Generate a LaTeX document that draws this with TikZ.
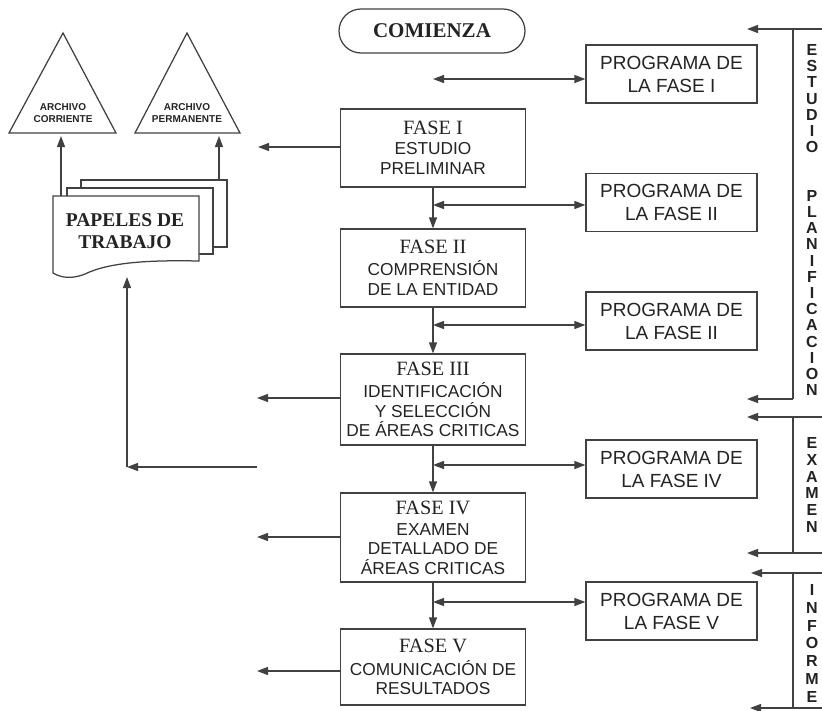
\documentclass[tikz,border=0pt]{standalone}
\usepackage{fontspec}
\setmainfont{Liberation Serif}
\setsansfont{Liberation Sans}
\usetikzlibrary{arrows.meta}
\definecolor{ink}{RGB}{35,35,35}
\definecolor{wire}{RGB}{65,65,65}
\newcommand\phasetitle[1]{{\rmfamily\fontsize{20.3}{22}\selectfont #1}}

\begin{document}
\begin{tikzpicture}[x=1pt,y=-1pt,
  line/.style={line width=1.25pt, draw=wire},
  arr/.style={line, -{Triangle[length=11pt,width=8pt]}},
  darr/.style={line, {Triangle[length=11pt,width=8pt]}-{Triangle[length=11pt,width=8pt]}},
  phasebox/.style={draw=wire, line width=1.25pt, minimum width=185pt, inner sep=0pt,
    align=center, text=ink, font=\sffamily\fontsize{17.3}{19.5}\selectfont},
  progbox/.style={draw=wire, line width=1.25pt, minimum width=171pt, minimum height=58pt,
    inner sep=0pt, align=center, text=ink, font=\sffamily\fontsize{19}{23}\selectfont},
  vlabel/.style={text=ink, align=center, inner sep=0pt, anchor=north},
  archlabel/.style={text=ink, align=center, inner sep=0pt,
    font=\sffamily\bfseries\fontsize{10}{12}\selectfont},
  sheet/.style={line, fill=white}
]
\useasboundingbox (0,0) rectangle (822,710);

% ---------- start ----------
\node[draw=wire, line width=1.25pt, rounded corners=22pt, minimum width=186pt,
      minimum height=44pt, text=ink,
      font=\rmfamily\bfseries\fontsize{21}{24}\selectfont] (start) at (432,31) {COMIENZA};

% ---------- phases ----------
\node[phasebox, minimum height=78pt] (f1) at (433,148)
  {\phasetitle{FASE I}\\[0.5pt] ESTUDIO\\ PRELIMINAR};
\node[phasebox, minimum height=78pt] (f2) at (433,268)
  {\phasetitle{FASE II}\\[2.5pt] COMPRENSIÓN\\ DE LA ENTIDAD};
\node[phasebox, minimum height=91pt] (f3) at (433,399.5)
  {\phasetitle{FASE III}\\[2.5pt] IDENTIFICACIÓN\\ Y SELECCIÓN\\ DE ÁREAS CRITICAS};
\node[phasebox, minimum height=89pt] (f4) at (433,537.5)
  {\phasetitle{FASE IV}\\[1.5pt] EXAMEN\\ DETALLADO DE\\ ÁREAS CRITICAS};
\node[phasebox, minimum height=76pt] (f5) at (433,667)
  {\phasetitle{FASE V}\\[3pt] COMUNICACIÓN DE\\ RESULTADOS};

% ---------- programmes ----------
\node[progbox] (p1) at (671.5,74)    {PROGRAMA DE\\LA FASE I};
\node[progbox] (p2) at (671.5,202.5) {PROGRAMA DE\\LA FASE II};
\node[progbox] (p3) at (671.5,321)   {PROGRAMA DE\\LA FASE II};
\node[progbox] (p4) at (671.5,469)   {PROGRAMA DE\\LA FASE IV};
\node[progbox] (p5) at (671.5,611)   {PROGRAMA DE\\LA FASE V};

% ---------- main spine ----------
\draw[arr] (f1.south) -- (f2.north);
\draw[arr] (f2.south) -- (f3.north);
\draw[arr] (f3.south) -- (f4.north);
\draw[arr] (f4.south) -- (f5.north);

% ---------- links to the programmes ----------
\coordinate (d1) at (433,79);
\coordinate (d2) at (433,205);
\coordinate (d3) at (433,325);
\coordinate (d4) at (433,465);
\coordinate (d5) at (433,602);
\draw[darr] (d1) -- (d1 -| p1.west);
\draw[darr] (d2) -- (d2 -| p2.west);
\draw[darr] (d3) -- (d3 -| p3.west);
\draw[darr] (d4) -- (d4 -| p4.west);
\draw[darr] (d5) -- (d5 -| p5.west);

% ---------- outputs to the left ----------
\coordinate (l1) at (258,147);
\coordinate (l3) at (257,398);
\coordinate (l4) at (257,537);
\coordinate (l5) at (257,671);
\draw[arr] (f1.west |- l1) -- (l1);
\draw[arr] (f3.west |- l3) -- (l3);
\draw[arr] (f4.west |- l4) -- (l4);
\draw[arr] (f5.west |- l5) -- (l5);

% ---------- working papers ----------
\draw[sheet] (81,180) rectangle (227,247);
\draw[sheet] (67,188) rectangle (213,254);
\draw[sheet] (53,196) -- (199,196) -- (199,261)
  .. controls (150,260) and (110,262) .. (85,274)
  .. controls (70,280) and (60,277) .. (53,273) -- cycle;
\node[text=ink, align=center, inner sep=0pt,
      font=\rmfamily\bfseries\fontsize{19.5}{22}\selectfont] (pap) at (125,231)
  {PAPELES DE\\TRABAJO};

\coordinate (w1) at (257,467);
\coordinate (w2) at (127,467);
\coordinate (w3) at (127,277);
\draw[arr] (w1) -- (w2);
\draw[arr] (w2) -- (w3);

% ---------- files ----------
\draw[line] (63,33) -- (116,133) -- (9,133) -- cycle;
\draw[line] (187,33) -- (240,133) -- (135,133) -- cycle;
\node[archlabel] (ac) at (63,113) {ARCHIVO\\CORRIENTE};
\node[archlabel] (ap) at (187,113) {ARCHIVO\\PERMANENTE};
\coordinate (u1) at (61,196);
\coordinate (u1e) at (61,136);
\coordinate (u2) at (219,180);
\coordinate (u2e) at (219,136);
\draw[arr] (u1) -- (u1e);
\draw[arr] (u2) -- (u2e);

% ---------- stage bars on the right ----------
\coordinate (t1) at (822,29);  \coordinate (t1e) at (747,29);
\coordinate (s1a) at (793,29); \coordinate (s1b) at (793,399);
\coordinate (s1e) at (747,399);
\draw[arr] (t1) -- (t1e);
\draw[line] (s1a) -- (s1b);
\draw[arr] (s1b) -- (s1e);

\coordinate (t2) at (822,417);  \coordinate (t2e) at (747,417);
\coordinate (s2a) at (793,417); \coordinate (s2b) at (793,553);
\coordinate (t3) at (822,553);  \coordinate (t3e) at (747,553);
\draw[arr] (t2) -- (t2e);
\draw[line] (s2a) -- (s2b);
\draw[arr] (t3) -- (t3e);

\coordinate (t4) at (822,573);  \coordinate (t4e) at (751,573);
\coordinate (s3a) at (793,573); \coordinate (s3b) at (793,708);
\coordinate (t5) at (822,708);  \coordinate (t5e) at (750,708);
\draw[arr] (t4) -- (t4e);
\draw[line] (s3a) -- (s3b);
\draw[arr] (t5) -- (t5e);

\node[vlabel, font=\sffamily\bfseries\fontsize{16}{16.2}\selectfont] (lab1) at (812,44.3)
  {E\\S\\T\\U\\D\\I\\O\\[32.4pt]P\\L\\A\\N\\I\\F\\I\\C\\A\\C\\I\\O\\N};
\node[vlabel, font=\sffamily\bfseries\fontsize{16}{16.8}\selectfont] (lab2) at (812,437.3)
  {E\\X\\A\\M\\E\\N};
\node[vlabel, font=\sffamily\bfseries\fontsize{16}{17.8}\selectfont] (lab3) at (812,584.3)
  {I\\N\\F\\O\\R\\M\\E};
\end{tikzpicture}
\end{document}
